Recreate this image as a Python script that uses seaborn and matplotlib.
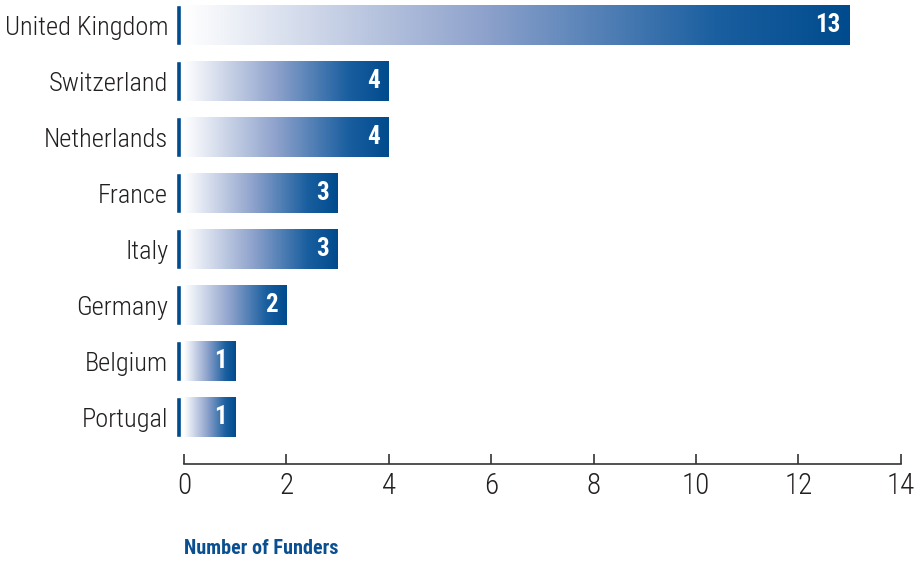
import numpy as np
import pandas as pd
import matplotlib
matplotlib.use('Agg')
import matplotlib.pyplot as plt
import seaborn as sns
from matplotlib.colors import LinearSegmentedColormap

countries = ['United Kingdom', 'Switzerland', 'Netherlands', 'France',
             'Italy', 'Germany', 'Belgium', 'Portugal']
funders = [13, 4, 4, 3, 3, 2, 1, 1]
x_ticks = [0, 2, 4, 6, 8, 10, 12, 14]

dark_blue = '#004b8d'
grad = LinearSegmentedColormap.from_list(
    'fade', [(0.0, '#ffffff'), (0.45, '#8ea2cc'), (0.8, '#1a5fa0'), (1.0, dark_blue)])

sns.set_style('white')
plt.rcParams['font.family'] = ['Liberation Sans Narrow', 'Roboto Condensed', 'DejaVu Sans']
plt.rcParams['font.stretch'] = 'condensed'

df = pd.DataFrame({'country': countries, 'funders': funders})

fig = plt.figure(figsize=(9.18, 5.63), dpi=100)
ax = fig.add_axes([0.1893, 0.1758, 0.7947, 0.8242])

sns.barplot(data=df, x='funders', y='country', color=dark_blue, width=0.72,
            saturation=1, ax=ax)

# gradient fill clipped to each bar, plus the thin stripe left of zero
g = np.linspace(0, 1, 256).reshape(1, -1)
for p in list(ax.patches):
    x0, y0 = p.get_x(), p.get_y()
    w, h = p.get_width(), p.get_height()
    im = ax.imshow(g, cmap=grad, aspect='auto', extent=[x0, x0 + w, y0 + h, y0],
                   zorder=3, interpolation='bicubic')
    im.set_clip_path(p)
    ax.barh(y0 + h / 2, 0.1, left=-0.15, height=h, color=dark_blue, zorder=3)
    ax.text(x0 + w - 0.17, y0 + h / 2, str(int(w)), color='white', ha='right',
            va='center', fontsize=18, fontweight='bold', zorder=4)

ax.set_xlim(-0.2, 14.05)
ax.set_ylim(7.84, -0.45)

for s in ['top', 'right', 'left']:
    ax.spines[s].set_visible(False)
ax.spines['bottom'].set_bounds(0, 14)
ax.spines['bottom'].set_color('#333333')
ax.spines['bottom'].set_linewidth(1.2)

ax.set_xticks(x_ticks)
ax.tick_params(axis='x', bottom=True, direction='in', length=7, width=1.2,
               color='#333333', labelsize=21, labelcolor='#231f20', pad=6)
ax.tick_params(axis='y', left=False, length=0, labelsize=19, labelcolor='#231f20', pad=4)
for lbl in ax.get_xticklabels() + ax.get_yticklabels():
    lbl.set_fontweight('light')
ax.set_xlabel('')
ax.set_ylabel('')

fig.text(184 / 918, 1 - 548 / 563, 'Number of Funders', color='#0a4f8f',
         fontsize=14.5, fontweight='bold', ha='left', va='center')

fig.savefig('out.png', dpi=100)
